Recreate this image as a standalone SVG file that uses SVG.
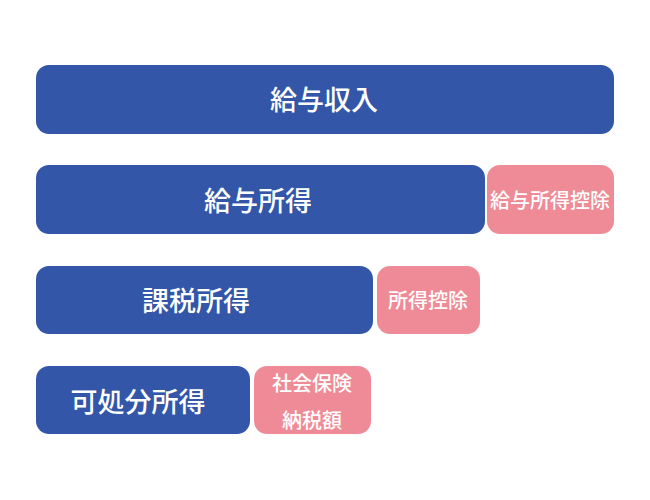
<svg xmlns="http://www.w3.org/2000/svg" width="650" height="500" viewBox="0 0 650 500">
<style>
.b{fill:#3356a8}
.p{fill:#ef8b96}
.t{fill:#ffffff;font-family:"Noto Sans CJK JP","Noto Sans CJK SC",sans-serif;font-weight:500;text-anchor:middle;dominant-baseline:central}
.big{font-size:27px}
.sm{font-size:20px}
</style>
<rect width="650" height="500" fill="#ffffff"/>
<g id="kyuyo-shunyu"><rect class="b" x="36" y="65" width="578" height="69" rx="13"/><text class="t big" x="324" y="98">給与収入</text></g>
<g id="kyuyo-shotoku"><rect class="b" x="36" y="165" width="449" height="69" rx="13"/><text class="t big" x="258" y="199">給与所得</text></g>
<g id="kyuyo-shotoku-kojo"><rect class="p" x="487" y="165" width="127" height="69" rx="13"/><text class="t sm" x="550" y="199">給与所得控除</text></g>
<g id="kazei-shotoku"><rect class="b" x="36" y="266" width="337" height="68" rx="13"/><text class="t big" x="196" y="299">課税所得</text></g>
<g id="shotoku-kojo"><rect class="p" x="377" y="266" width="103" height="68" rx="13"/><text class="t sm" x="428" y="299">所得控除</text></g>
<g id="kashobun-shotoku"><rect class="b" x="36" y="366" width="214" height="68" rx="13"/><text class="t big" x="138" y="400">可処分所得</text></g>
<g id="shakai-hoken"><rect class="p" x="254" y="366" width="117" height="68" rx="13"/><text class="t sm" x="312" y="382">社会保険</text><text class="t sm" x="312" y="419">納税額</text></g>
<g id="connectors"></g>
</svg>
